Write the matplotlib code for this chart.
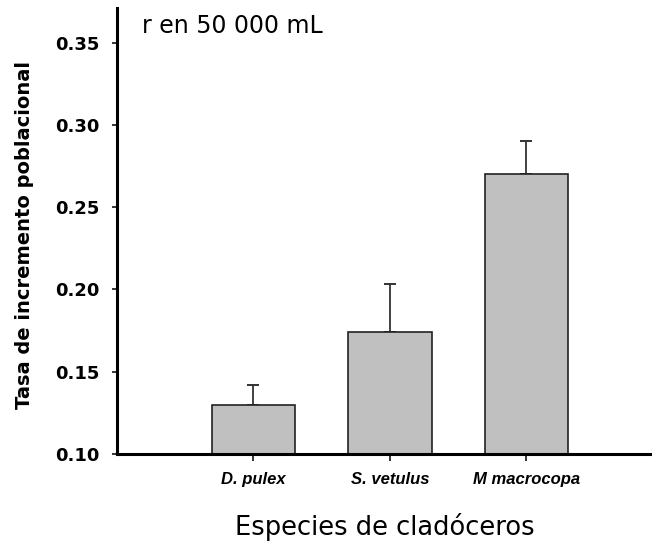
import matplotlib
matplotlib.use("Agg")
import matplotlib.pyplot as plt

species = ["D. pulex", "S. vetulus", "M macrocopa"]
r_values = [0.130, 0.174, 0.270]
r_errors = [0.012, 0.029, 0.020]
y_ticks = [0.10, 0.15, 0.20, 0.25, 0.30, 0.35]

W, H = 652, 543
fig = plt.figure(figsize=(W / 100, H / 100), dpi=100)
ax = fig.add_axes([117 / W, (H - 454) / H, 1 - 117 / W, (454 - 8) / H])

positions = [1, 2, 3]
ax.bar(positions, [v - 0.10 for v in r_values], bottom=0.10, width=0.61,
       color="#c0c0c0", edgecolor="#222222", linewidth=1.2, zorder=2)
ax.errorbar(positions, r_values, yerr=[[0] * 3, r_errors], fmt="none",
            ecolor="#333333", elinewidth=1.3, capsize=4, capthick=1.4, zorder=1)

ax.set_xlim(0, 3.92)
ax.set_ylim(0.10, 0.371)
ax.set_yticks(y_ticks)
ax.set_xticks(positions)

for s in ["top", "right"]:
    ax.spines[s].set_visible(False)
for s in ["left", "bottom"]:
    ax.spines[s].set_linewidth(2.2)
ax.tick_params(axis="y", length=3.6, width=1.1, pad=9)
ax.tick_params(axis="x", length=5, width=1.1, pad=8)

ax.set_yticklabels([f"{t:.2f}" for t in y_ticks])
ax.set_xticklabels(species)
for lab in ax.get_yticklabels():
    lab.set_fontfamily("DejaVu Sans")
    lab.set_fontweight("bold")
    lab.set_fontsize(13)
for lab in ax.get_xticklabels():
    lab.set_fontfamily("Liberation Sans")
    lab.set_fontweight("bold")
    lab.set_fontstyle("italic")
    lab.set_fontsize(12)

ax.set_ylabel("Tasa de incremento poblacional", fontfamily="DejaVu Sans",
              fontweight="bold", fontsize=14)
ax.yaxis.set_label_coords(-0.172, 0.491)
ax.yaxis.label.set_verticalalignment("center")

ax.set_xlabel("Especies de cladóceros", fontfamily="DejaVu Sans", fontsize=18.5)
ax.xaxis.set_label_coords(0.5, (454 - 535) / 446)
ax.xaxis.label.set_verticalalignment("baseline")

fig.text(142 / W, 1 - 33 / H, "r en 50 000 mL", fontfamily="DejaVu Sans",
         fontsize=17, va="baseline", ha="left")

fig.savefig("out.png", dpi=100)
